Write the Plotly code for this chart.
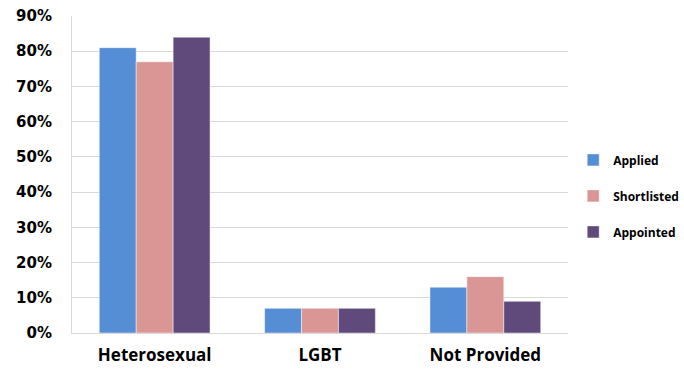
import plotly.graph_objects as go

categories = ["Heterosexual", "LGBT", "Not Provided"]
applied = [81, 7, 13]
shortlisted = [77, 7, 16]
appointed = [84, 7, 9]
tick_vals = [0, 10, 20, 30, 40, 50, 60, 70, 80, 90]
tick_text = [f"{v}%" for v in tick_vals]

series = [
    ("Applied", applied, "#558ED5"),
    ("Shortlisted", shortlisted, "#D99694"),
    ("Appointed", appointed, "#604A7B"),
]

fig = go.Figure()
for i, (name, vals, color) in enumerate(series):
    fig.add_trace(go.Bar(
        x=categories, y=vals, name=name, legendgroup=f"g{i}",
        marker=dict(color=color, line=dict(color="rgba(255,255,255,0.6)", width=0.8)),
    ))

font_family = "'Open Sans', Lato, Arial, sans-serif"
fig.update_layout(
    width=684, height=371,
    margin=dict(l=72, r=116, t=16, b=38),
    paper_bgcolor="white", plot_bgcolor="white",
    barmode="group", bargap=0.33, bargroupgap=0,
    font=dict(family=font_family, color="#000000"),
    showlegend=True,
    legend=dict(
        xref="container", yref="container",
        x=0.838, y=0.472, xanchor="left", yanchor="middle",
        font=dict(size=12, family=font_family, weight="bold"),
        tracegroupgap=17, itemwidth=30,
    ),
    xaxis=dict(
        showgrid=False, showline=True, linecolor="#D9D9D9", linewidth=1,
        ticks="", tickfont=dict(size=17, weight="bold"),
        ticklabelstandoff=7, automargin=False,
    ),
    yaxis=dict(
        range=[0, 90], tickvals=tick_vals, ticktext=tick_text,
        showgrid=True, gridcolor="#D9D9D9", gridwidth=1,
        showline=True, linecolor="#D9D9D9", linewidth=1,
        zeroline=False, automargin=False,
        tickfont=dict(size=15, weight="bold", family="'DejaVu Sans', Verdana, sans-serif"),
        ticklabelstandoff=16,
    ),
)

fig.write_html(
    "out.html",
    config={"displayModeBar": False},
    post_script="document.body.style.margin='0';document.body.style.overflow='hidden';",
)
